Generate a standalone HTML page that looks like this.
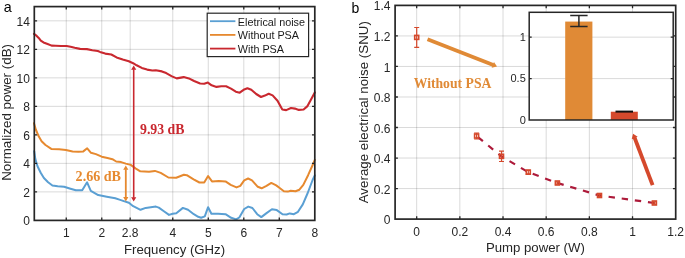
<!DOCTYPE html>
<html><head><meta charset="utf-8"><style>html,body{margin:0;padding:0;background:#fff;width:685px;height:258px;overflow:hidden}</style></head>
<body>
<svg width="685" height="258" viewBox="0 0 685 258" style="display:block;filter:blur(0.3px)">
<path d="M66.26 6.6V220.4M101.76 6.6V220.4M130.17 6.6V220.4M172.77 6.6V220.4M208.28 6.6V220.4M243.79 6.6V220.4M279.29 6.6V220.4M34.3 191.89H314.8M34.3 163.39H314.8M34.3 134.88H314.8M34.3 106.37H314.8M34.3 77.87H314.8M34.3 49.36H314.8M34.3 20.85H314.8" stroke="#262626" stroke-opacity="0.17" stroke-width="1" fill="none"/>
<path d="M34.2 151.2 L35.3 158.9 L37.5 166.3 L40.7 172.7 L43.9 178 L48.1 182.3 L52.4 185.5 L57.7 186.2 L64.1 186.8 L70.5 188.7 L75.8 190.2 L82.2 190.2 L87.1 182.3 L90.8 190.8 L98.2 195.1 L106.8 196.8 L115.3 198.3 L119.4 199.6 L123.8 201.1 L128.9 202.8 L133.2 206.2 L140.5 209.8 L145.7 207.9 L150.8 207.3 L155.9 206.6 L158.8 207.6 L163.9 211.3 L169 214.9 L172.7 213.8 L176.3 213.2 L182.9 207.9 L188 209.8 L193.8 214.2 L198.2 216.8 L201.1 217.8 L204.8 216.4 L208.1 207.2 L211.4 213.8 L215 213.8 L218.1 213.7 L225.5 214.2 L231.2 217.8 L236.1 219.4 L239.3 217.5 L244.2 209 L248.3 206.6 L252.4 208 L257.2 214.2 L261.3 217.1 L266.2 213.4 L271.9 209.3 L276.8 210.1 L282.5 214.2 L286.6 214.5 L289.8 213.4 L293.9 214.2 L298 211.8 L302.8 204.4 L307.7 193 L312.6 180 L314.8 175.4" stroke="#5a9fd3" stroke-width="2.0" fill="none" stroke-linejoin="round" stroke-linecap="round"/>
<path d="M34 123.2 L35.8 129.5 L38.7 136.3 L41.6 141.2 L45.5 145 L51.3 148.9 L59.1 149.3 L65.9 149.9 L72.6 151.4 L78.4 151.8 L83.3 151.4 L87.2 148.3 L91 152.8 L95.9 154.1 L101.7 156.7 L107.5 158 L112.4 159.2 L116.2 161.5 L121.1 162.1 L125.8 163.6 L130.7 164.9 L135.5 168.4 L140.3 171.3 L149 171.7 L154.9 170.9 L160.7 172.9 L168.4 177.5 L176.2 177.7 L183.9 174.8 L186.8 175.2 L193.6 179.4 L199.4 182.5 L204.2 182.5 L208.1 176.1 L212 181.4 L218.8 181 L225.5 181.4 L230.7 184.9 L236.5 187.4 L240.3 185.8 L244.2 180.4 L248.1 178.5 L252 180.4 L257.8 186.8 L261.6 188.3 L266.5 185.8 L271.3 182.9 L276.2 185.4 L280 188.3 L283.9 191.3 L287.8 191.6 L290.7 190.7 L295.5 191.3 L299.4 189.7 L303.3 184.9 L308.1 175.2 L312 166.5 L314.8 159.9" stroke="#e6892f" stroke-width="2.0" fill="none" stroke-linejoin="round" stroke-linecap="round"/>
<path d="M34 33.8 L36.7 35.9 L38.7 37.9 L40.8 40.6 L43.5 42.4 L47.6 44 L51.6 45.6 L55.7 45.8 L61.1 46 L66.6 46 L70.6 46.7 L74.7 47.8 L80.1 48.9 L86.9 49.1 L92.3 50.2 L97.8 51 L100 51.9 L105.2 53.6 L111.3 54.5 L116.6 57.4 L122.7 59.5 L128.8 61.3 L133.1 63.2 L136.6 65.3 L141.8 67.9 L147.1 69.6 L152.3 70.5 L155.8 70.3 L161.9 71.4 L166.2 73.1 L171.5 76.1 L176.7 78.4 L183.7 77.1 L188.9 78.4 L194.1 81 L200.1 83.5 L204.2 83.8 L207.9 82.6 L211.6 85.3 L216.5 86.9 L221.3 86.3 L226.1 86.3 L231 88.6 L235.8 91.7 L239.7 92.7 L243.6 89.8 L247.4 88.2 L251.3 89.8 L256.2 94 L261 97 L264.9 95.6 L268.7 93.7 L272.6 95.4 L277.5 100.8 L282.3 109.5 L286.2 110.1 L291 108 L294.9 108.6 L298.8 109.9 L303.6 109.5 L307.5 106.1 L311.3 98.9 L314.8 92.5" stroke="#c9282f" stroke-width="2.1" fill="none" stroke-linejoin="round" stroke-linecap="round"/>
<path d="M125.8 169.2V197.6" stroke="#e6892f" stroke-width="1.8"/><path d="M125.8 165.4L123.2 169.7L128.4 169.7Z M125.8 201.4L123.2 197.1L128.4 197.1Z" fill="#e6892f"/>
<path d="M133.7 69.2V197.8" stroke="#c9282f" stroke-width="1.6"/><path d="M133.7 65.4L131.1 69.7L136.3 69.7Z M133.7 201.6L131.1 197.3L136.3 197.3Z" fill="#c9282f"/>
<text x="140" y="134.2" font-family='"Liberation Serif", serif' font-weight="bold" font-size="13.8" fill="#c9282f">9.93 dB</text>
<text x="75.6" y="180.6" font-family='"Liberation Serif", serif' font-weight="bold" font-size="14.1" fill="#e6892f">2.66 dB</text>
<path d="M66.26 220.4v-2.8M66.26 6.6v2.8M101.76 220.4v-2.8M101.76 6.6v2.8M130.17 220.4v-2.8M130.17 6.6v2.8M172.77 220.4v-2.8M172.77 6.6v2.8M208.28 220.4v-2.8M208.28 6.6v2.8M243.79 220.4v-2.8M243.79 6.6v2.8M279.29 220.4v-2.8M279.29 6.6v2.8M34.3 191.89h2.8M314.8 191.89h-2.8M34.3 163.39h2.8M314.8 163.39h-2.8M34.3 134.88h2.8M314.8 134.88h-2.8M34.3 106.37h2.8M314.8 106.37h-2.8M34.3 77.87h2.8M314.8 77.87h-2.8M34.3 49.36h2.8M314.8 49.36h-2.8M34.3 20.85h2.8M314.8 20.85h-2.8" stroke="#262626" stroke-width="1.3" fill="none"/>
<rect x="34.3" y="6.6" width="280.5" height="213.8" stroke="#262626" stroke-width="1.7" fill="none"/>
<g font-family='"Liberation Sans", sans-serif' font-size="12" fill="#262626"><text x="66.26" y="237.1" text-anchor="middle">1</text><text x="101.76" y="237.1" text-anchor="middle">2</text><text x="130.17" y="237.1" text-anchor="middle">2.8</text><text x="172.77" y="237.1" text-anchor="middle">4</text><text x="208.28" y="237.1" text-anchor="middle">5</text><text x="243.79" y="237.1" text-anchor="middle">6</text><text x="279.29" y="237.1" text-anchor="middle">7</text><text x="314.8" y="237.1" text-anchor="middle">8</text><text x="29.9" y="225.4" text-anchor="end">0</text><text x="29.9" y="196.89" text-anchor="end">2</text><text x="29.9" y="168.39" text-anchor="end">4</text><text x="29.9" y="139.88" text-anchor="end">6</text><text x="29.9" y="111.37" text-anchor="end">8</text><text x="29.9" y="82.87" text-anchor="end">10</text><text x="29.9" y="54.36" text-anchor="end">12</text><text x="29.9" y="25.85" text-anchor="end">14</text></g>
<text x="174.55" y="253.6" text-anchor="middle" font-family='"Liberation Sans", sans-serif' font-size="13.2" fill="#262626">Frequency (GHz)</text>
<text transform="translate(10.9 112.4) rotate(-90)" text-anchor="middle" font-family='"Liberation Sans", sans-serif' font-size="13.4" fill="#262626">Normalized power (dB)</text>
<text x="3.8" y="12.3" font-family='"Liberation Sans", sans-serif' font-size="14.3" fill="#000">a</text>
<rect x="207.2" y="13.2" width="101.4" height="43.4" fill="#fff" stroke="#262626" stroke-width="1.2"/>
<path d="M210 21.2H235.4" stroke="#5a9fd3" stroke-width="1.8"/>
<text x="237.8" y="25.5" font-family='"Liberation Sans", sans-serif' font-size="10.8" fill="#1a1a1a">Eletrical noise</text>
<path d="M210 34.9H235.4" stroke="#e6892f" stroke-width="1.8"/>
<text x="237.8" y="39.2" font-family='"Liberation Sans", sans-serif' font-size="10.8" fill="#1a1a1a">Without PSA</text>
<path d="M210 48.6H235.4" stroke="#c9282f" stroke-width="1.8"/>
<text x="237.8" y="52.9" font-family='"Liberation Sans", sans-serif' font-size="10.8" fill="#1a1a1a">With PSA</text>
<path d="M416.68 5.4V219.1M459.85 5.4V219.1M503.02 5.4V219.1M546.19 5.4V219.1M589.36 5.4V219.1M632.53 5.4V219.1M395.1 188.57H675.7M395.1 158.04H675.7M395.1 127.51H675.7M395.1 96.99H675.7M395.1 66.46H675.7M395.1 35.93H675.7" stroke="#262626" stroke-opacity="0.17" stroke-width="1" fill="none"/>
<path d="M427.5 39.2L493.28 65.04" stroke="#e08a36" stroke-width="3.8" stroke-linecap="butt"/><path d="M497 66.5L491.64 67.83L493.98 61.88Z" fill="#e08a36"/>
<text x="413.7" y="88.4" font-family='"Liberation Serif", serif' font-weight="bold" font-size="13.7" fill="#e08a36">Without PSA</text>
<path d="M652.6 185.2L634.52 137.54" stroke="#d5492c" stroke-width="3.8" stroke-linecap="butt"/><path d="M633.1 133.8L637.69 136.87L631.7 139.14Z" fill="#d5492c"/>
<path d="M476.6 136.1 L501.5 156.3 L528.3 172.2 L557.4 183 L599.5 195.5 L654.4 203" stroke="#ad1a3a" stroke-width="2.2" fill="none" stroke-dasharray="6.4 6.84" stroke-dashoffset="-1.7"/>
<path d="M416.7 27.5V47.3M414.2 27.5h5M414.2 47.3h5" stroke="#d5492c" stroke-width="1.2" fill="none"/>
<rect x="414.7" y="35.4" width="4.0" height="4.0" fill="none" stroke="#d5492c" stroke-width="1.6"/>
<path d="M476.6 133V139M474.1 133h5M474.1 139h5" stroke="#d5492c" stroke-width="1.2" fill="none"/>
<rect x="474.6" y="134" width="4.0" height="4.0" fill="none" stroke="#d5492c" stroke-width="1.6"/>
<path d="M501.5 151.1V161.5M499 151.1h5M499 161.5h5" stroke="#d5492c" stroke-width="1.2" fill="none"/>
<rect x="499.5" y="154.3" width="4.0" height="4.0" fill="none" stroke="#d5492c" stroke-width="1.6"/>
<path d="M528.3 170.2V174.2M525.8 170.2h5M525.8 174.2h5" stroke="#d5492c" stroke-width="1.2" fill="none"/>
<rect x="526.3" y="170.2" width="4.0" height="4.0" fill="none" stroke="#d5492c" stroke-width="1.6"/>
<path d="M557.4 181.8V184.2M554.9 181.8h5M554.9 184.2h5" stroke="#d5492c" stroke-width="1.2" fill="none"/>
<rect x="555.4" y="181" width="4.0" height="4.0" fill="none" stroke="#d5492c" stroke-width="1.6"/>
<path d="M599.5 194.3V196.7M597 194.3h5M597 196.7h5" stroke="#d5492c" stroke-width="1.2" fill="none"/>
<rect x="597.5" y="193.5" width="4.0" height="4.0" fill="none" stroke="#d5492c" stroke-width="1.6"/>
<path d="M654.4 201.8V204.2M651.9 201.8h5M651.9 204.2h5" stroke="#d5492c" stroke-width="1.2" fill="none"/>
<rect x="652.4" y="201" width="4.0" height="4.0" fill="none" stroke="#d5492c" stroke-width="1.6"/>
<path d="M416.68 219.1v-2.8M416.68 5.4v2.8M459.85 219.1v-2.8M459.85 5.4v2.8M503.02 219.1v-2.8M503.02 5.4v2.8M546.19 219.1v-2.8M546.19 5.4v2.8M589.36 219.1v-2.8M589.36 5.4v2.8M632.53 219.1v-2.8M632.53 5.4v2.8M395.1 188.57h2.8M675.7 188.57h-2.8M395.1 158.04h2.8M675.7 158.04h-2.8M395.1 127.51h2.8M675.7 127.51h-2.8M395.1 96.99h2.8M675.7 96.99h-2.8M395.1 66.46h2.8M675.7 66.46h-2.8M395.1 35.93h2.8M675.7 35.93h-2.8" stroke="#262626" stroke-width="1.3" fill="none"/>
<rect x="395.1" y="5.4" width="280.6" height="213.7" stroke="#262626" stroke-width="1.7" fill="none"/>
<g font-family='"Liberation Sans", sans-serif' font-size="12" fill="#262626"><text x="416.68" y="236.3" text-anchor="middle">0</text><text x="459.85" y="236.3" text-anchor="middle">0.2</text><text x="503.02" y="236.3" text-anchor="middle">0.4</text><text x="546.19" y="236.3" text-anchor="middle">0.6</text><text x="589.36" y="236.3" text-anchor="middle">0.8</text><text x="632.53" y="236.3" text-anchor="middle">1</text><text x="675.7" y="236.3" text-anchor="middle">1.2</text><text x="390.4" y="224.2" text-anchor="end">0</text><text x="390.4" y="193.67" text-anchor="end">0.2</text><text x="390.4" y="163.14" text-anchor="end">0.4</text><text x="390.4" y="132.61" text-anchor="end">0.6</text><text x="390.4" y="102.09" text-anchor="end">0.8</text><text x="390.4" y="71.56" text-anchor="end">1</text><text x="390.4" y="41.03" text-anchor="end">1.2</text><text x="390.4" y="9.9" text-anchor="end">1.4</text></g>
<text x="535.4" y="252.4" text-anchor="middle" font-family='"Liberation Sans", sans-serif' font-size="13.2" fill="#262626">Pump power (W)</text>
<text transform="translate(367.9 112.2) rotate(-90)" text-anchor="middle" font-family='"Liberation Sans", sans-serif' font-size="13.35" fill="#262626">Average electrical noise (SNU)</text>
<text x="351.6" y="13" font-family='"Liberation Sans", sans-serif' font-size="14" fill="#000">b</text>
<rect x="529.2" y="12.3" width="144" height="107.7" fill="#fff"/>
<path d="M529.2 78.58H673.2M529.2 37.15H673.2" stroke="#262626" stroke-opacity="0.17" stroke-width="1" fill="none"/>
<rect x="565.2" y="21.58" width="27.2" height="98.42" fill="#e08a36"/>
<rect x="610.8" y="111.72" width="27" height="8.28" fill="#d5492c"/>
<path d="M578.9 15.6V26.5M570.2 15.6H587.6M570.2 26.5H587.6" stroke="#262626" stroke-width="1.5" fill="none"/>
<path d="M615.5 111.6H633" stroke="#111" stroke-width="2" fill="none"/>
<path d="M529.2 78.58h2.5M673.2 78.58h-2.5M529.2 37.15h2.5M673.2 37.15h-2.5" stroke="#262626" stroke-width="1.3" fill="none"/>
<rect x="529.2" y="12.3" width="144" height="107.7" stroke="#262626" stroke-width="1.5" fill="none"/>
<g font-family='"Liberation Sans", sans-serif' font-size="11" fill="#262626"><text x="525.8" y="123.9" text-anchor="end">0</text><text x="525.8" y="82.48" text-anchor="end">0.5</text><text x="525.8" y="41.05" text-anchor="end">1</text></g>
</svg>
</body></html>
